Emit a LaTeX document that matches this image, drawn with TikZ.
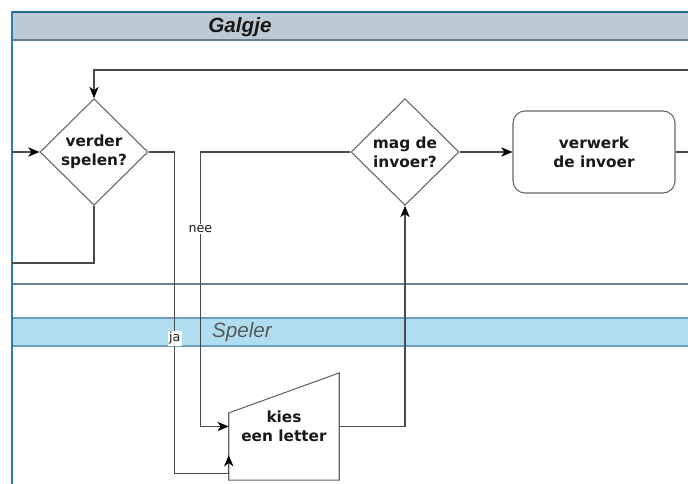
\documentclass[tikz,border=0pt]{standalone}
\usepackage{fontspec}
\setmainfont{DejaVu Sans}
\newfontfamily\lanefont{Liberation Sans}
\usetikzlibrary{arrows.meta,shapes.geometric,calc}
\definecolor{frameside}{HTML}{2A7DB0}
\definecolor{frametop}{HTML}{1A6A8E}
\definecolor{titlefill}{HTML}{BCCAD6}
\definecolor{titleline}{HTML}{6A8090}
\definecolor{lanefill}{HTML}{B1DDF0}
\definecolor{laneline}{HTML}{6C9EBF}
\definecolor{shapeline}{HTML}{666666}
\definecolor{flowline}{HTML}{4A4A4A}
\tikzset{
  every node/.style={font=\fontsize{11.5}{14.5}\selectfont\bfseries, text=black!90},
  decision/.style={diamond, draw=shapeline, line width=0.8pt, fill=white,
    align=center, inner sep=0pt, minimum width=81pt, minimum height=80pt},
  process/.style={rectangle, rounded corners=9pt, draw=shapeline, line width=0.8pt,
    fill=white, align=center, minimum width=121.5pt, minimum height=61.5pt},
  inputbox/.style={rectangle, align=center, minimum width=82.5pt, minimum height=80pt},
  lanetitle/.style={font=\lanefont\fontsize{15.5}{17}\selectfont\itshape},
  link/.style={line width=0.9pt, draw=flowline},
  flow/.style={link, -{Stealth[length=8.5pt,width=7pt,inset=2.5pt,color=black]}},
  lbl/.style={font=\fontsize{9.5}{10}\selectfont, fill=white, inner sep=1pt},
}
\begin{document}
\begin{tikzpicture}[x=0.75pt,y=-0.75pt]
\useasboundingbox (0,0) rectangle (688,484);

% ---- Pool and lanes ----
\fill[titlefill] (12,12) rectangle (688,40);
\draw[titleline, line width=1pt] (12,40) -- (688,40);
\node[lanetitle, font=\lanefont\fontsize{15.5}{17}\selectfont\bfseries\itshape] (galgje) at (240,27) {Galgje};
\draw[titleline, line width=1pt] (12,284) -- (688,284);
\fill[lanefill] (12,318) rectangle (688,346);
\draw[laneline, line width=1pt] (12,318) -- (688,318) (12,346) -- (688,346);
\node[lanetitle, text=black!65] (speler) at (242,332) {Speler};
\draw[frametop, line width=1.5pt] (11,12) -- (688,12);
\draw[frameside, line width=1.5pt] (12,11) -- (12,484);

% ---- Shapes ----
\node[decision] (verder) at (94,152) {verder\\spelen?};
\node[decision] (mag) at (405,152) {mag de\\invoer?};
\node[process] (verwerk) at (594,152) {verwerk\\de invoer};
\node[inputbox] (kies) at (284,426.5) {kies\\een letter};
\draw[shapeline, line width=0.8pt] (kies.south west) -- (kies.south east)
  -- (kies.north east) -- ($(kies.north west)+(0,40)$) -- cycle;

\coordinate (inL) at (12,152);
\coordinate (outL) at (12,263);
\coordinate (topR) at (688,70);
\coordinate (outR) at (688,152);

% ---- Connectors ----
\draw[flow] (inL) -- (verder.west);
\draw[flow] (topR) -| (verder.north);
\draw[link] (verder.south) |- (outL);
\draw[flow] (verder.east) -| node[lbl, pos=0.79] {ja} ($(kies.south west)+(-54,-7)$)
  -- ($(kies.south west)+(0,-7)$) -- ($(kies.south west)+(0,-25)$);
\draw[flow] (mag.west) -- ++(-150,0) |- node[lbl, pos=0.14] {nee} (kies.west);
\draw[flow] (kies.east) -| (mag.south);
\draw[flow] (mag.east) -- (verwerk.west);
\draw[link] (verwerk.east) -- (outR);

\end{tikzpicture}
\end{document}
